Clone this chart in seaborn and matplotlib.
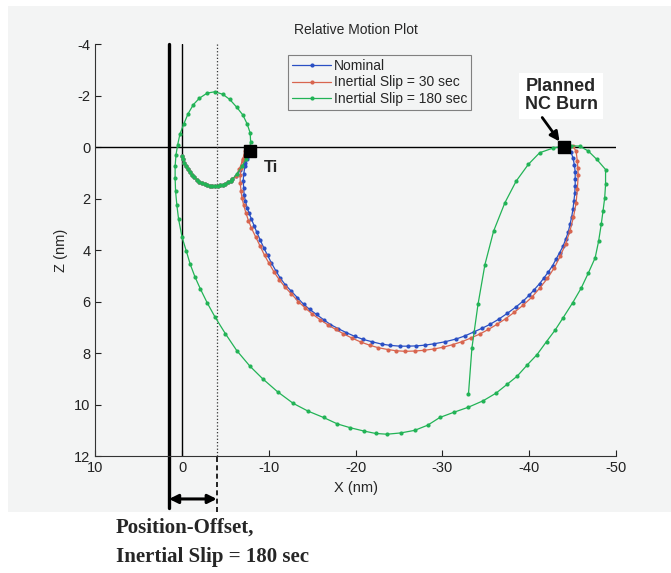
import pandas as pd
import seaborn as sns
import matplotlib.pyplot as plt
from matplotlib.patches import Rectangle

# shared approach arc before Ti (all three runs fly it)
approach_x = [0.0, -0.1, -0.25, -0.45, -0.65, -0.9, -1.15, -1.4, -1.7, -2.0, -2.3, -2.6,
              -2.9, -3.2, -3.5, -3.8, -4.1, -4.4, -4.7, -5.0, -5.3, -5.6, -5.8]
approach_z = [0.35, 0.47, 0.6, 0.73, 0.86, 0.98, 1.08, 1.17, 1.26, 1.34, 1.4, 1.45,
              1.48, 1.51, 1.52, 1.52, 1.51, 1.49, 1.46, 1.42, 1.37, 1.31, 1.25]

nominal_x = [-6.2, -6.7, -7.2, -7.55, -7.7, -7.45, -7.25, -7.1, -7.05, -7.1, -7.15, -7.3,
             -7.5, -7.7, -8.0, -8.3, -8.6, -9.0, -9.4, -9.85, -10.3, -10.8, -11.3, -11.9,
             -12.6, -13.3, -14.0, -14.7, -15.5, -16.3, -17.1, -18.0, -18.9, -19.9, -20.9,
             -21.9, -23.0, -24.0, -25.1, -26.0, -27.0, -28.0, -29.0, -30.3, -31.6, -32.6,
             -33.6, -34.6, -35.5, -36.5, -37.5, -38.5, -39.3, -40.0, -40.6, -41.2, -41.7,
             -42.2, -42.7, -43.1, -43.5, -43.9, -44.2, -44.5, -44.7, -44.9, -45.05, -45.15,
             -45.25, -45.3, -45.3, -45.3, -45.2, -45.05, -44.8, -44.5]
nominal_z = [1.12, 0.9, 0.6, 0.35, 0.2, 0.45, 0.75, 1.05, 1.3, 1.6, 1.85, 2.1,
             2.35, 2.55, 2.8, 3.05, 3.3, 3.6, 3.9, 4.2, 4.5, 4.8, 5.08, 5.35,
             5.6, 5.85, 6.1, 6.3, 6.5, 6.7, 6.89, 7.05, 7.2, 7.35, 7.47,
             7.56, 7.65, 7.7, 7.73, 7.73, 7.72, 7.69, 7.64, 7.56, 7.45, 7.33,
             7.18, 7.03, 6.88, 6.68, 6.45, 6.2, 5.98, 5.75, 5.53, 5.3, 5.08,
             4.85, 4.6, 4.35, 4.1, 3.85, 3.58, 3.3, 3.0, 2.7, 2.4, 2.1,
             1.8, 1.5, 1.22, 0.95, 0.68, 0.42, 0.18, 0.0]

slip30_x = [-6.2, -6.6, -7.0, -7.25, -7.3, -7.0, -6.8, -6.7, -6.7, -6.8, -6.9, -7.1,
            -7.35, -7.65, -8.0, -8.5, -9.0, -9.5, -10.0, -10.6, -11.2, -11.9, -12.6,
            -13.4, -14.2, -15.0, -15.9, -16.8, -17.7, -18.6, -19.6, -20.6, -21.6, -22.6,
            -23.7, -24.7, -25.7, -26.8, -27.9, -29.0, -30.1, -31.2, -32.3, -33.3, -34.3,
            -35.3, -36.3, -37.3, -38.3, -39.3, -40.3, -41.2, -42.1, -42.9, -43.6, -44.2,
            -44.7, -45.1, -45.4, -45.55, -45.65, -45.6, -45.55, -45.4, -45.0]
slip30_z = [1.12, 0.85, 0.5, 0.25, 0.15, 0.45, 0.8, 1.1, 1.4, 1.7, 1.97, 2.25,
            2.55, 2.85, 3.15, 3.5, 3.85, 4.2, 4.5, 4.85, 5.15, 5.45, 5.7,
            6.0, 6.25, 6.48, 6.7, 6.9, 7.08, 7.25, 7.42, 7.57, 7.69, 7.79,
            7.86, 7.91, 7.93, 7.92, 7.89, 7.84, 7.77, 7.67, 7.55, 7.41, 7.26,
            7.08, 6.88, 6.66, 6.41, 6.14, 5.83, 5.48, 5.1, 4.68, 4.22, 3.75,
            3.25, 2.72, 2.18, 1.62, 1.08, 0.8, 0.55, 0.15, -0.05]

slip180_x = [-6.3, -6.9, -7.4, -7.75, -7.9, -7.85, -7.5, -7.0, -6.3, -5.5, -4.7, -3.8, -2.9,
             -2.0, -1.3, -0.7, -0.2, 0.25, 0.5, 0.7, 0.8, 0.8, 0.75, 0.6, 0.4, 0.0, -0.5,
             -0.94, -1.5, -2.1, -2.9, -3.8, -5.0, -6.3, -7.8, -9.3, -11.0, -12.8, -14.5,
             -16.3, -17.9, -19.4, -21.0, -22.3, -23.6, -25.2, -26.8, -28.3, -29.7, -31.3,
             -33.0, -34.7, -36.2, -37.5, -38.6, -39.8, -40.9, -42.0, -43.0, -43.9, -45.0,
             -46.0, -46.8, -47.6, -48.0, -48.3, -48.5, -48.7, -48.8, -48.8, -47.8, -46.8,
             -45.8, -44.8, -43.8, -42.8, -41.2, -39.9, -38.5, -37.2, -35.9, -34.9, -34.1,
             -33.4, -33.0]
slip180_z = [1.05, 0.75, 0.45, 0.15, -0.2, -0.55, -0.9, -1.25, -1.55, -1.85, -2.05, -2.15, -2.1,
             -1.9, -1.65, -1.3, -0.9, -0.5, -0.1, 0.3, 0.75, 1.2, 1.7, 2.25, 2.8, 3.5, 4.05,
             4.55, 5.05, 5.5, 6.05, 6.6, 7.25, 7.9, 8.5, 9.0, 9.5, 9.95, 10.25,
             10.5, 10.75, 10.9, 11.03, 11.12, 11.15, 11.1, 11.0, 10.8, 10.5, 10.3,
             10.1, 9.85, 9.55, 9.2, 8.9, 8.45, 8.06, 7.55, 7.1, 6.63, 6.05,
             5.47, 4.9, 4.3, 3.65, 3.0, 2.5, 1.97, 1.45, 0.87, 0.48, 0.15,
             -0.04, -0.05, -0.03, 0.03, 0.22, 0.67, 1.32, 2.16, 3.26, 4.56, 6.11,
             7.8, 9.6]

case_names = ["Nominal", "Inertial Slip = 30 sec", "Inertial Slip = 180 sec"]
case_colors = ["#2a4fc4", "#d8654f", "#22b356"]

ti_x, ti_z = -7.85, 0.15
nc_x, nc_z = -44.0, 0.0
offset_x = [1.5, -4.0]  # vertical reference lines for the position offset

frames = []
for name, xs, zs in zip(case_names,
                        [nominal_x, slip30_x, slip180_x],
                        [nominal_z, slip30_z, slip180_z]):
    frames.append(pd.DataFrame({"x": approach_x + xs, "z": approach_z + zs, "case": name}))
df = pd.concat(frames, ignore_index=True)

sns.set_style("ticks")
plt.rcParams["font.family"] = ["Liberation Sans", "DejaVu Sans"]
plt.rcParams["axes.unicode_minus"] = False
bg = "#f3f4f4"

fig = plt.figure(figsize=(6.71, 5.73), dpi=100)
fig.patch.set_facecolor("white")
fig.patches.append(Rectangle((0.012, 0.106), 0.988, 0.883, transform=fig.transFigure,
                             facecolor=bg, edgecolor="none", zorder=-10))
ax = fig.add_axes([0.142, 0.204, 0.776, 0.719])
ax.set_facecolor(bg)

# reference lines
ax.axhline(0, color="black", lw=1, zorder=1)
ax.axvline(0, color="black", lw=1, zorder=1)
ax.axvline(offset_x[0], ymin=-0.127, ymax=1, color="black", lw=2.4, clip_on=False, zorder=1)
ax.axvline(offset_x[1], color="#333333", lw=0.9, ls=":", zorder=1)
ax.axvline(offset_x[1], ymin=-0.135, ymax=0, color="black", lw=1.2, ls=(0, (3, 2)),
           clip_on=False, zorder=1)

sns.lineplot(data=df, x="x", y="z", hue="case", sort=False, estimator=None,
             palette=dict(zip(case_names, case_colors)), marker="o", markersize=3,
             markeredgewidth=0, linewidth=0.9, ax=ax, zorder=3)

ax.plot([ti_x], [ti_z], marker="s", color="black", markersize=8, zorder=5)
ax.plot([nc_x], [nc_z], marker="s", color="black", markersize=8, zorder=5)
ax.text(-10.3, 0.8, "Ti", fontsize=12, fontweight="bold", ha="center", va="center")
ax.text(-43.7, -2.0, "Planned\nNC Burn", fontsize=13, fontweight="bold", ha="center",
        va="center", linespacing=1.05, zorder=6,
        bbox=dict(facecolor="white", edgecolor="none", pad=4))
ax.annotate("", xy=(-43.5, -0.22), xytext=(-41.5, -1.15),
            arrowprops=dict(arrowstyle="-|>", color="black", lw=2, mutation_scale=14,
                            shrinkA=0, shrinkB=0), zorder=6)

# double arrow showing the offset below the axis
ax.annotate("", xy=(offset_x[1], -0.104), xytext=(offset_x[0], -0.104),
            xycoords=("data", "axes fraction"), textcoords=("data", "axes fraction"),
            arrowprops=dict(arrowstyle="<|-|>", color="black", lw=2.2, mutation_scale=13,
                            shrinkA=0, shrinkB=0), annotation_clip=False)

ax.set_xlim(10, -50)
ax.set_ylim(12, -4)
ax.set_xticks([10, 0, -10, -20, -30, -40, -50])
ax.set_yticks([-4, -2, 0, 2, 4, 6, 8, 10, 12])
ax.tick_params(direction="in", length=4, labelsize=10.5, colors="#222222")
for s in ["top", "right"]:
    ax.spines[s].set_visible(False)
for s in ["left", "bottom"]:
    ax.spines[s].set_color("#333333")
    ax.spines[s].set_linewidth(0.8)
ax.set_xlabel("X (nm)", fontsize=10.5)
ax.set_ylabel("Z (nm)", fontsize=10.5)
ax.set_title("Relative Motion Plot", fontsize=10, pad=7)

handles, labels = ax.get_legend_handles_labels()
leg = ax.legend(handles, labels, loc="upper left", bbox_to_anchor=(0.357, 0.99),
                fontsize=10, numpoints=1, handlelength=2.8, handletextpad=0.2,
                borderpad=0.3, labelspacing=0.15, fancybox=False, framealpha=1,
                facecolor=bg, edgecolor="#808080")
leg.get_frame().set_linewidth(0.8)

fig.text(0.173, 0.079, "Position-Offset,", fontsize=15, fontweight="bold",
         family=["Liberation Serif", "DejaVu Serif"], va="center")
fig.text(0.173, 0.028, "Inertial Slip = 180 sec", fontsize=15, fontweight="bold",
         family=["Liberation Serif", "DejaVu Serif"], va="center")

fig.savefig("out.png", dpi=100, facecolor=fig.get_facecolor())
